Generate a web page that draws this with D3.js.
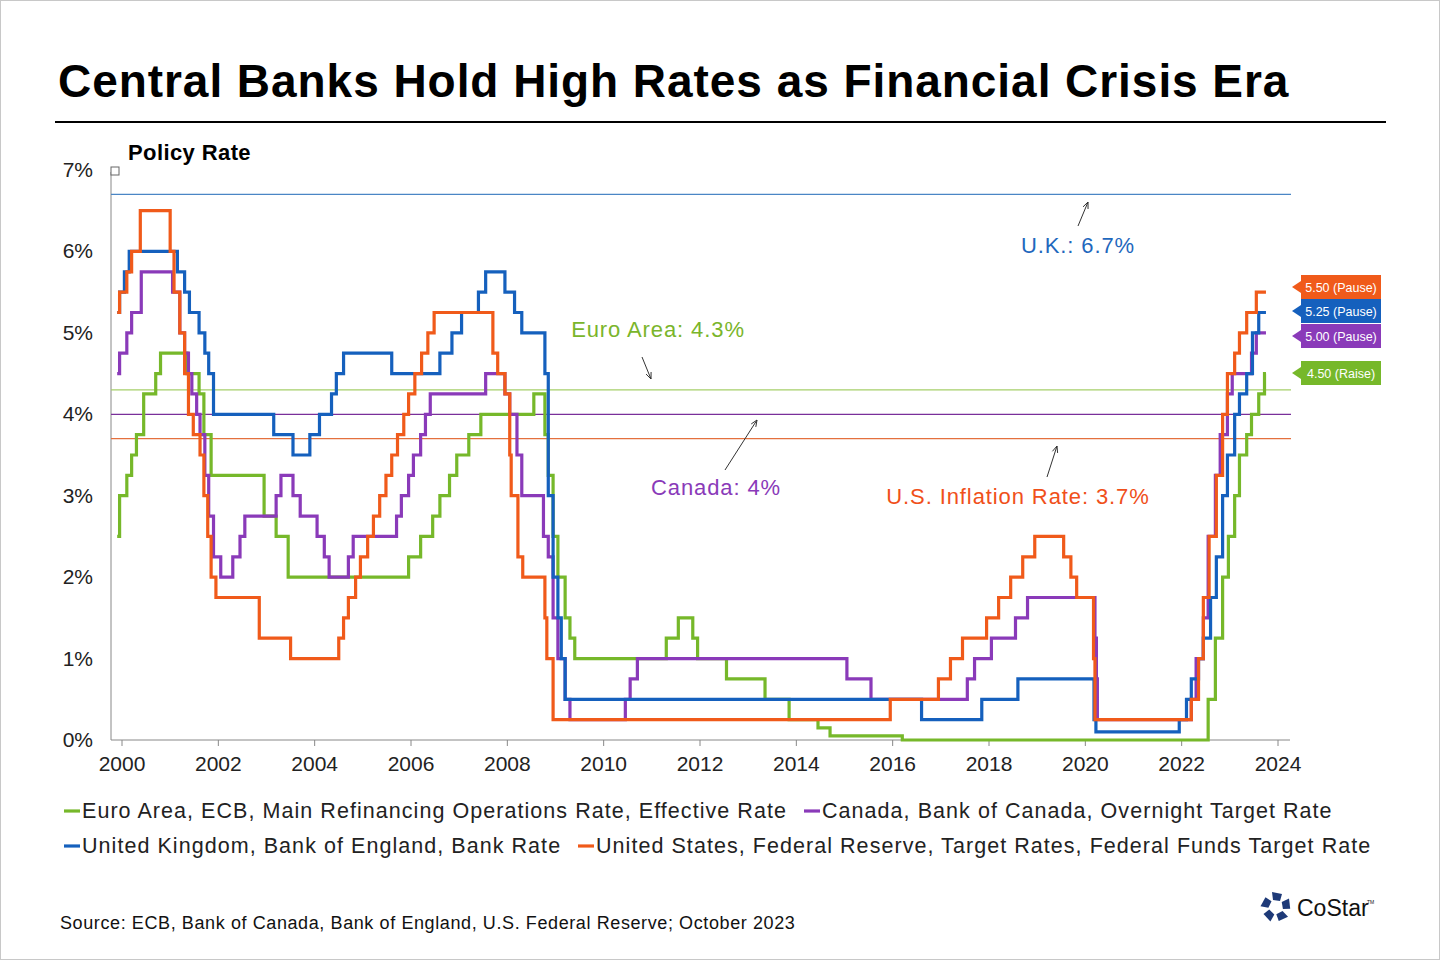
<!DOCTYPE html>
<html><head><meta charset="utf-8">
<script src="https://cdn.jsdelivr.net/npm/d3@7"></script>
<style>
body{margin:0;background:#fff;font-family:"Liberation Sans",Arial,sans-serif}
svg text{font-family:"Liberation Sans",Arial,sans-serif}
</style></head><body>
<svg id="chart" width="1440" height="960"></svg>
<script>
'use strict';
// step series: [year (fractional), rate]
var ecb = [[1999.9,2.5],[1999.95,3.0],[2000.1,3.25],[2000.2,3.5],[2000.3,3.75],[2000.45,4.25],[2000.7,4.5],[2000.8,4.75],[2001.35,4.5],[2001.6,4.25],[2001.7,3.75],[2001.85,3.25],[2002.95,2.75],[2003.2,2.5],[2003.45,2.0],[2005.95,2.25],[2006.2,2.5],[2006.45,2.75],[2006.6,3.0],[2006.8,3.25],[2006.95,3.5],[2007.2,3.75],[2007.45,4.0],[2008.55,4.25],[2008.78,3.75],[2008.85,3.25],[2008.95,2.5],[2009.05,2.0],[2009.2,1.5],[2009.3,1.25],[2009.4,1.0],[2011.3,1.25],[2011.55,1.5],[2011.85,1.25],[2011.95,1.0],[2012.55,0.75],[2013.35,0.5],[2013.85,0.25],[2014.45,0.15],[2014.7,0.05],[2016.2,0.0],[2022.55,0.5],[2022.7,1.25],[2022.85,2.0],[2022.97,2.5],[2023.1,3.0],[2023.2,3.5],[2023.35,3.75],[2023.45,4.0],[2023.6,4.25],[2023.72,4.5],[2023.75,4.5]];
var canada = [[1999.9,4.5],[1999.95,4.75],[2000.1,5.0],[2000.2,5.25],[2000.4,5.75],[2001.05,5.5],[2001.2,5.0],[2001.3,4.75],[2001.38,4.5],[2001.45,4.25],[2001.55,4.0],[2001.62,3.75],[2001.72,3.25],[2001.8,2.75],[2001.9,2.25],[2002.05,2.0],[2002.3,2.25],[2002.45,2.5],[2002.55,2.75],[2003.2,3.0],[2003.3,3.25],[2003.55,3.0],[2003.7,2.75],[2004.05,2.5],[2004.2,2.25],[2004.3,2.0],[2004.7,2.25],[2004.8,2.5],[2005.7,2.75],[2005.8,3.0],[2005.95,3.25],[2006.05,3.5],[2006.2,3.75],[2006.3,4.0],[2006.4,4.25],[2007.55,4.5],[2007.95,4.25],[2008.05,4.0],[2008.2,3.5],[2008.3,3.0],[2008.75,2.5],[2008.85,2.25],[2008.95,1.5],[2009.05,1.0],[2009.2,0.5],[2009.3,0.25],[2010.45,0.5],[2010.55,0.75],[2010.7,1.0],[2015.05,0.75],[2015.55,0.5],[2017.55,0.75],[2017.7,1.0],[2018.05,1.25],[2018.55,1.5],[2018.8,1.75],[2020.2,1.25],[2020.23,0.75],[2020.25,0.25],[2022.2,0.5],[2022.3,1.0],[2022.45,1.5],[2022.55,2.5],[2022.7,3.25],[2022.8,3.75],[2022.95,4.25],[2023.05,4.5],[2023.45,4.75],[2023.55,5.0],[2023.75,5.0]];
var uk = [[1999.9,5.25],[1999.95,5.5],[2000.05,5.75],[2000.15,6.0],[2001.15,5.75],[2001.3,5.5],[2001.4,5.25],[2001.6,5.0],[2001.72,4.75],[2001.8,4.5],[2001.9,4.0],[2003.15,3.75],[2003.55,3.5],[2003.9,3.75],[2004.1,4.0],[2004.35,4.25],[2004.45,4.5],[2004.6,4.75],[2005.6,4.5],[2006.6,4.75],[2006.85,5.0],[2007.05,5.25],[2007.4,5.5],[2007.55,5.75],[2007.95,5.5],[2008.15,5.25],[2008.3,5.0],[2008.78,4.5],[2008.85,3.0],[2008.95,2.0],[2009.05,1.5],[2009.12,1.0],[2009.2,0.5],[2016.6,0.25],[2017.85,0.5],[2018.6,0.75],[2020.18,0.25],[2020.22,0.1],[2021.95,0.25],[2022.1,0.5],[2022.2,0.75],[2022.35,1.0],[2022.45,1.25],[2022.6,1.75],[2022.72,2.25],[2022.85,3.0],[2022.95,3.5],[2023.1,4.0],[2023.2,4.25],[2023.35,4.5],[2023.47,5.0],[2023.6,5.25],[2023.75,5.25]];
var us = [[1999.9,5.25],[1999.95,5.5],[2000.1,5.75],[2000.2,6.0],[2000.38,6.5],[2001.0,6.0],[2001.08,5.5],[2001.2,5.0],[2001.3,4.5],[2001.38,4.0],[2001.48,3.75],[2001.62,3.5],[2001.7,3.0],[2001.78,2.5],[2001.85,2.0],[2001.95,1.75],[2002.85,1.25],[2003.5,1.0],[2004.5,1.25],[2004.6,1.5],[2004.7,1.75],[2004.85,2.0],[2004.95,2.25],[2005.1,2.5],[2005.22,2.75],[2005.35,3.0],[2005.48,3.25],[2005.6,3.5],[2005.72,3.75],[2005.85,4.0],[2005.95,4.25],[2006.08,4.5],[2006.22,4.75],[2006.35,5.0],[2006.48,5.25],[2007.7,4.75],[2007.8,4.5],[2007.95,4.25],[2008.05,3.5],[2008.08,3.0],[2008.22,2.25],[2008.32,2.0],[2008.78,1.5],[2008.82,1.0],[2008.95,0.25],[2015.95,0.5],[2016.95,0.75],[2017.2,1.0],[2017.45,1.25],[2017.95,1.5],[2018.2,1.75],[2018.45,2.0],[2018.7,2.25],[2018.95,2.5],[2019.55,2.25],[2019.7,2.0],[2019.82,1.75],[2020.17,1.0],[2020.2,0.25],[2022.2,0.5],[2022.35,1.0],[2022.45,1.75],[2022.57,2.5],[2022.72,3.25],[2022.85,4.0],[2022.95,4.5],[2023.1,4.75],[2023.2,5.0],[2023.35,5.25],[2023.55,5.5],[2023.75,5.5]];

var yTicks = [0, 1, 2, 3, 4, 5, 6, 7];
var xTicks = [2000, 2002, 2004, 2006, 2008, 2010, 2012, 2014, 2016, 2018, 2020, 2022, 2024];

var refLines = [
  {name: 'U.K.: 6.7%', v: 6.7, color: '#4a86c5', tx: 1078, ty: 253, ax: [1078, 226, 1088, 202]},
  {name: 'Euro Area: 4.3%', v: 4.3, color: '#a6cf6a', tx: 658, ty: 337, ax: [642, 357, 651, 379]},
  {name: 'Canada: 4%', v: 4.0, color: '#7a2f9a', tx: 716, ty: 495, ax: [725, 470, 757, 420]},
  {name: 'U.S. Inflation Rate: 3.7%', v: 3.7, color: '#e4703e', tx: 1018, ty: 504, ax: [1047, 477, 1057, 446]}
];
var refText = ['#1f68bd', '#7ab52b', '#8a3ab9', '#f0501a'];

var series = [
  {data: ecb, color: '#76b82a', label: '4.50 (Raise)', ly: 373},
  {data: canada, color: '#8a3ab9', label: '5.00 (Pause)', ly: 336},
  {data: uk, color: '#1560bd', label: '5.25 (Pause)', ly: 311},
  {data: us, color: '#f05a1a', label: '5.50 (Pause)', ly: 287}
];
var svg = d3.select('#chart');

svg.append('rect').attr('x', 0.5).attr('y', 0.5).attr('width', 1439).attr('height', 959)
  .attr('fill', '#fff').attr('stroke', '#c8c8c8');

svg.append('text').attr('x', 58).attr('y', 97).attr('font-size', 46).attr('font-weight', 'bold')
  .attr('letter-spacing', 0.95).text('Central Banks Hold High Rates as Financial Crisis Era');
svg.append('line').attr('x1', 55).attr('x2', 1386).attr('y1', 122).attr('y2', 122)
  .attr('stroke', '#000').attr('stroke-width', 2);

var x = d3.scaleLinear().domain([2000, 2024]).range([122, 1278]);
var y = d3.scaleLinear().domain([0, 7]).range([740, 170]);

svg.append('text').attr('x', 128).attr('y', 160).attr('font-size', 22).attr('font-weight', 'bold')
  .attr('letter-spacing', 0.4).text('Policy Rate');

// axes
svg.append('line').attr('x1', 111).attr('x2', 111).attr('y1', 172).attr('y2', 740).attr('stroke', '#888');
svg.append('rect').attr('x', 111).attr('y', 167).attr('width', 8).attr('height', 8).attr('fill', '#fff').attr('stroke', '#666');
svg.append('line').attr('x1', 111).attr('x2', 1290).attr('y1', 740).attr('y2', 740).attr('stroke', '#888');
svg.selectAll('.yl').data(yTicks).enter().append('text')
  .attr('x', 93).attr('y', function(d) { return y(d) + 7; }).attr('text-anchor', 'end')
  .attr('font-size', 21).attr('fill', '#222').text(function(d) { return d + '%'; });
svg.selectAll('.xt').data(xTicks).enter().append('line')
  .attr('x1', function(d) { return x(d); }).attr('x2', function(d) { return x(d); })
  .attr('y1', 740).attr('y2', 746).attr('stroke', '#888');
svg.selectAll('.xl').data(xTicks).enter().append('text')
  .attr('x', function(d) { return x(d); }).attr('y', 771).attr('text-anchor', 'middle')
  .attr('font-size', 21).attr('fill', '#222').text(function(d) { return d; });

// reference lines
refLines.forEach(function(r) {
  svg.append('line').attr('x1', 111).attr('x2', 1291).attr('y1', y(r.v)).attr('y2', y(r.v))
    .attr('stroke', r.color).attr('stroke-width', 1.3);
});

// series
var line = d3.line().x(function(d) { return x(d[0]); }).y(function(d) { return y(d[1]); }).curve(d3.curveStepAfter);
series.forEach(function(s) {
  svg.append('path').attr('d', line(s.data)).attr('fill', 'none')
    .attr('stroke', s.color).attr('stroke-width', 3.2);
});

// annotations
refLines.forEach(function(r, i) {
  svg.append('text').attr('x', r.tx).attr('y', r.ty).attr('text-anchor', 'middle')
    .attr('font-size', 22).attr('letter-spacing', 0.9).attr('fill', refText[i]).text(r.name);
  var a = r.ax;
  svg.append('line').attr('x1', a[0]).attr('y1', a[1]).attr('x2', a[2]).attr('y2', a[3])
    .attr('stroke', '#333').attr('stroke-width', 1);
  var ang = Math.atan2(a[3] - a[1], a[2] - a[0]);
  var hx = a[2], hy = a[3], l = 7;
  svg.append('path').attr('d', 'M' + (hx - l * Math.cos(ang - 0.4)) + ',' + (hy - l * Math.sin(ang - 0.4)) +
    'L' + hx + ',' + hy + 'L' + (hx - l * Math.cos(ang + 0.4)) + ',' + (hy - l * Math.sin(ang + 0.4)))
    .attr('fill', 'none').attr('stroke', '#333').attr('stroke-width', 1);
});

// end callouts
series.forEach(function(s) {
  var g = svg.append('g').attr('transform', 'translate(1301,' + s.ly + ')');
  g.append('path').attr('d', 'M-9,0L0,-6L0,6Z').attr('fill', s.color);
  g.append('rect').attr('x', 0).attr('y', -12).attr('width', 80).attr('height', 24).attr('fill', s.color);
  g.append('text').attr('x', 40).attr('y', 4.5).attr('text-anchor', 'middle').attr('font-size', 12.5)
    .attr('fill', '#fff').text(s.label);
});

// legend
var legend = [
  {t: 'Euro Area, ECB, Main Refinancing Operations Rate, Effective Rate', c: '#76b82a', x: 64, y: 818},
  {t: 'Canada, Bank of Canada, Overnight Target Rate', c: '#8a3ab9', x: 804, y: 818},
  {t: 'United Kingdom, Bank of England, Bank Rate', c: '#1560bd', x: 64, y: 853},
  {t: 'United States, Federal Reserve, Target Rates, Federal Funds Target Rate', c: '#f05a1a', x: 578, y: 853}
];
legend.forEach(function(l) {
  svg.append('line').attr('x1', l.x).attr('x2', l.x + 16).attr('y1', l.y - 7).attr('y2', l.y - 7)
    .attr('stroke', l.c).attr('stroke-width', 3.2);
  svg.append('text').attr('x', l.x + 18).attr('y', l.y).attr('font-size', 21.5).attr('letter-spacing', 1.05)
    .attr('fill', '#222').text(l.t);
});

svg.append('text').attr('x', 60).attr('y', 929).attr('font-size', 18).attr('fill', '#111').attr('letter-spacing', 0.6)
  .text('Source: ECB, Bank of Canada, Bank of England, U.S. Federal Reserve; October 2023');

// logo
var logo = svg.append('g').attr('transform', 'translate(1276,907)');
d3.range(5).forEach(function(i) {
  logo.append('path').attr('d', 'M-4,-15L6,-13L4,-6L-3,-7Z').attr('fill', '#1e3a78')
    .attr('transform', 'rotate(' + (i * 72) + ')');
});
svg.append('text').attr('x', 1297).attr('y', 916).attr('font-family', '"Liberation Serif",serif')
  .attr('font-size', 23).attr('fill', '#111').text('CoStar');
svg.append('text').attr('x', 1367).attr('y', 904).attr('font-size', 5).attr('fill', '#111').text('TM');
</script>
</body></html>
